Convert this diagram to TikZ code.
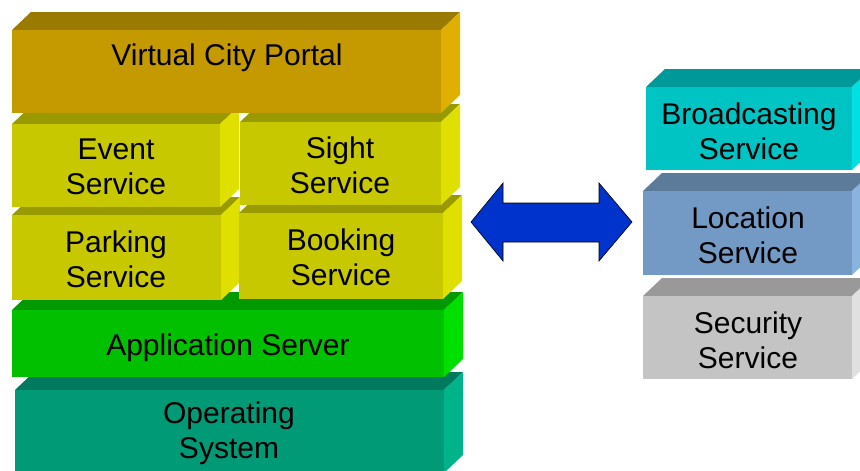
\documentclass[tikz,border=0pt]{standalone}
\usepackage{fontspec}
\setmainfont{Liberation Sans}
\usetikzlibrary{calc}
\definecolor{portalfront}{HTML}{C49A00}
\definecolor{portaltop}{HTML}{9A7A00}
\definecolor{portalside}{HTML}{E0B000}
\definecolor{servicefront}{HTML}{C8C800}
\definecolor{servicetop}{HTML}{999900}
\definecolor{serviceside}{HTML}{E0E000}
\definecolor{appfront}{HTML}{00C000}
\definecolor{apptop}{HTML}{009900}
\definecolor{appside}{HTML}{00E000}
\definecolor{osfront}{HTML}{009A77}
\definecolor{ostop}{HTML}{007A5E}
\definecolor{osside}{HTML}{00B38A}
\definecolor{castfront}{HTML}{00C4C4}
\definecolor{casttop}{HTML}{009999}
\definecolor{castside}{HTML}{00E0E0}
\definecolor{locfront}{HTML}{739AC5}
\definecolor{loctop}{HTML}{5C7A9A}
\definecolor{locside}{HTML}{8AB4E0}
\definecolor{secfront}{HTML}{C4C4C4}
\definecolor{sectop}{HTML}{999999}
\definecolor{secside}{HTML}{E0E0E0}
\definecolor{linkblue}{HTML}{0033CC}
% 3d block: colour prefix, front face corners (pixels, y downwards)
\def\block[#1](#2,#3)(#4,#5){%
  \fill[#1top] (#2,#3) -- (#2+19,#3-18) -- (#4+19,#3-18) -- (#4,#3) -- cycle;
  \fill[#1side] (#4,#3) -- (#4+19,#3-18) -- (#4+19,#5-18) -- (#4,#5) -- cycle;
  \fill[#1front] (#2,#3) rectangle (#4,#5);}

\begin{document}
\begin{tikzpicture}[x=1pt,y=-1pt,
    boxtext/.style={font=\fontsize{30}{35}\selectfont,align=center,inner sep=0pt}]
			\useasboundingbox (0,0) rectangle (860,471);
			\clip (0,0) rectangle (860,471);
			%%%%% LEFT STACK %%%%%
			\block[os](15,390)(444,473);
			\block[app](12,310)(444,377);
			\block[service](12,215)(221,300);
			\block[service](239,213)(443,299);
			\block[service](12,124)(220,207);
			\block[service](240,122)(441,205);
			\block[portal](12,30)(441,113);
			
			\node[boxtext] (os) at (229,433) {Operating\\System};
			\node[boxtext] (appserver) at (228,348) {Application Server};
			\node[boxtext] (parking) at (116,259) {Parking\\Service};
			\node[boxtext] (booking) at (341,257) {Booking\\Service};
			\node[boxtext] (event) at (116,167) {Event\\Service};
			\node[boxtext] (sight) at (340,165) {Sight\\Service};
			\node[boxtext] (portal) at (227,58) {Virtual City Portal};
			
			%%%%% RIGHT STACK %%%%%
			\block[sec](643,296)(852,379);
			\block[loc](643,191)(852,275);
			\block[cast](646,87)(852,170);
			
			\node[boxtext] (security) at (748,340) {Security\\Service};
			\node[boxtext] (location) at (748,235) {Location\\Service};
			\node[boxtext] (broadcast) at (749,131) {Broadcasting\\Service};
			
			%%%%% LINK %%%%%
			\draw[fill=linkblue, line width=0.6pt] (471,222) -- (503,183) -- (503,203) -- (599,203) -- (599,183)
			  -- (632,222) -- (599,261) -- (599,242) -- (503,242) -- (503,261) -- cycle;
		\end{tikzpicture}
\end{document}
